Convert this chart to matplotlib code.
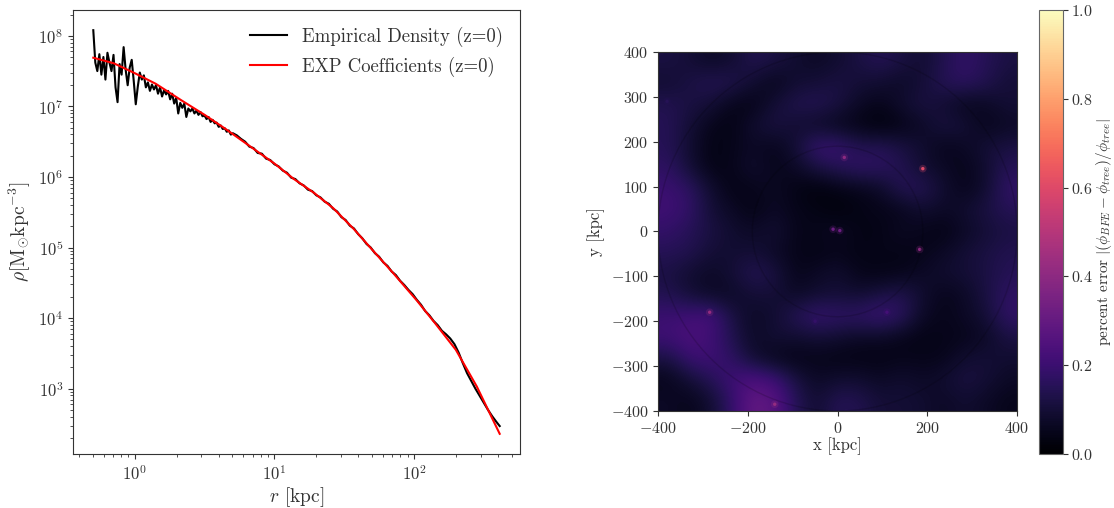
import numpy as np
import matplotlib
matplotlib.use('agg')
import matplotlib.pyplot as plt
from matplotlib.patches import Circle

plt.rcParams['font.family'] = 'serif'
plt.rcParams['font.serif'] = ['cmr10']
plt.rcParams['mathtext.fontset'] = 'cm'
plt.rcParams['axes.formatter.use_mathtext'] = True
plt.rcParams['axes.edgecolor'] = '0.2'
plt.rcParams['text.color'] = '0.2'
plt.rcParams['axes.labelcolor'] = '0.2'
plt.rcParams['xtick.color'] = '0.2'
plt.rcParams['ytick.color'] = '0.2'

# --- density profile (log10 r [kpc], log10 rho) ---
emp_logr_inner = np.linspace(-0.298, 0.702, 70)  # radial bins, inner noisy part
emp_logrho_inner = [
    8.08, 7.62, 7.50, 7.74, 7.45, 7.70, 7.38, 7.76, 7.62, 7.50,
    7.73, 7.27, 7.06, 7.60, 7.45, 7.84, 7.52, 7.30, 7.55, 7.66,
    7.36, 7.03, 7.28, 7.48, 7.38, 7.44, 7.27, 7.34, 7.22, 7.31,
    7.24, 7.30, 7.18, 7.27, 7.14, 7.23, 7.17, 7.22, 7.10, 7.18,
    7.04, 7.12, 6.90, 7.05, 6.98, 7.04, 6.85, 6.97, 6.93, 6.97,
    6.90, 6.94, 6.88, 6.92, 6.86, 6.87, 6.82, 6.85, 6.78, 6.81,
    6.76, 6.77, 6.71, 6.73, 6.68, 6.69, 6.64, 6.66, 6.60, 6.62,
]
emp_logr_outer = [
    0.73, 0.76, 0.79, 0.82, 0.85, 0.88, 0.91, 0.94, 0.97, 1.00,
    1.03, 1.06, 1.09, 1.12, 1.15, 1.18, 1.21, 1.24, 1.27, 1.30,
    1.33, 1.36, 1.39, 1.42, 1.45, 1.48, 1.51, 1.54, 1.57, 1.60,
    1.63, 1.66, 1.69, 1.72, 1.75, 1.78, 1.81, 1.84, 1.87, 1.90,
    1.93, 1.96, 1.99, 2.02, 2.05, 2.08, 2.11, 2.14, 2.17, 2.20,
    2.23, 2.26, 2.29, 2.32, 2.35, 2.38, 2.41, 2.44, 2.47, 2.50,
    2.53, 2.56, 2.59, 2.614,
]
emp_logrho_outer = [
    6.59, 6.54, 6.50, 6.43, 6.41, 6.34, 6.33, 6.26, 6.24, 6.18,
    6.15, 6.09, 6.06, 5.99, 5.97, 5.91, 5.88, 5.82, 5.80, 5.74,
    5.71, 5.65, 5.62, 5.55, 5.51, 5.43, 5.39, 5.31, 5.27, 5.19,
    5.13, 5.05, 5.00, 4.92, 4.87, 4.79, 4.74, 4.66, 4.61, 4.53,
    4.47, 4.40, 4.34, 4.26, 4.19, 4.10, 4.04, 3.96, 3.90, 3.82,
    3.77, 3.71, 3.63, 3.51, 3.36, 3.22, 3.11, 3.00, 2.90, 2.80,
    2.70, 2.61, 2.53, 2.47,
]
exp_logr = [-0.298, -0.15, 0.0, 0.15, 0.33, 0.50, 0.65, 0.85, 1.00, 1.14,
            1.28, 1.42, 1.57, 1.70, 1.85, 2.02, 2.15, 2.30, 2.45, 2.614]
exp_logrho = [7.69, 7.61, 7.47, 7.32, 7.09, 6.88, 6.68, 6.40, 6.19, 5.97,
              5.78, 5.56, 5.26, 4.97, 4.64, 4.25, 3.93, 3.55, 3.03, 2.36]

# --- percent error map, coarse grid (rows y=400 -> -400) ---
err_grid = np.array([
    [0.12, 0.10, 0.07, 0.09, 0.14, 0.12, 0.09, 0.07, 0.09, 0.12, 0.15, 0.12, 0.09, 0.14, 0.18, 0.15, 0.12],
    [0.09, 0.12, 0.15, 0.14, 0.09, 0.05, 0.09, 0.10, 0.12, 0.10, 0.09, 0.07, 0.10, 0.15, 0.17, 0.14, 0.10],
    [0.14, 0.12, 0.10, 0.05, 0.04, 0.10, 0.14, 0.15, 0.12, 0.07, 0.05, 0.09, 0.12, 0.09, 0.05, 0.07, 0.10],
    [0.15, 0.10, 0.05, 0.04, 0.09, 0.12, 0.09, 0.07, 0.05, 0.04, 0.02, 0.04, 0.07, 0.12, 0.10, 0.05, 0.07],
    [0.15, 0.09, 0.04, 0.05, 0.07, 0.05, 0.10, 0.20, 0.20, 0.14, 0.15, 0.12, 0.09, 0.05, 0.07, 0.10, 0.12],
    [0.17, 0.10, 0.04, 0.05, 0.09, 0.05, 0.07, 0.12, 0.15, 0.18, 0.17, 0.14, 0.09, 0.07, 0.05, 0.09, 0.15],
    [0.20, 0.17, 0.09, 0.04, 0.05, 0.07, 0.04, 0.02, 0.04, 0.05, 0.07, 0.15, 0.15, 0.09, 0.05, 0.09, 0.18],
    [0.21, 0.18, 0.10, 0.07, 0.04, 0.07, 0.05, 0.04, 0.02, 0.04, 0.05, 0.05, 0.09, 0.07, 0.09, 0.12, 0.15],
    [0.18, 0.15, 0.12, 0.09, 0.07, 0.10, 0.05, 0.05, 0.07, 0.04, 0.04, 0.07, 0.05, 0.04, 0.07, 0.10, 0.12],
    [0.15, 0.14, 0.10, 0.09, 0.10, 0.07, 0.05, 0.04, 0.05, 0.04, 0.05, 0.04, 0.05, 0.07, 0.10, 0.12, 0.14],
    [0.12, 0.09, 0.07, 0.10, 0.15, 0.12, 0.05, 0.07, 0.09, 0.05, 0.04, 0.05, 0.07, 0.09, 0.10, 0.12, 0.15],
    [0.14, 0.10, 0.07, 0.07, 0.10, 0.10, 0.07, 0.09, 0.10, 0.09, 0.12, 0.14, 0.09, 0.05, 0.07, 0.12, 0.17],
    [0.20, 0.21, 0.23, 0.12, 0.07, 0.09, 0.15, 0.20, 0.18, 0.18, 0.21, 0.17, 0.07, 0.05, 0.07, 0.10, 0.18],
    [0.21, 0.24, 0.21, 0.14, 0.07, 0.10, 0.09, 0.10, 0.09, 0.07, 0.07, 0.05, 0.04, 0.05, 0.05, 0.07, 0.12],
    [0.12, 0.20, 0.21, 0.17, 0.09, 0.05, 0.04, 0.05, 0.04, 0.04, 0.04, 0.05, 0.05, 0.05, 0.09, 0.10, 0.09],
    [0.05, 0.10, 0.15, 0.21, 0.24, 0.21, 0.12, 0.07, 0.09, 0.09, 0.07, 0.09, 0.07, 0.09, 0.12, 0.10, 0.07],
    [0.07, 0.05, 0.09, 0.18, 0.30, 0.27, 0.15, 0.09, 0.15, 0.14, 0.10, 0.10, 0.09, 0.07, 0.09, 0.07, 0.05],
])
spot_x = [190, 15, -285, 183, -140, -10, 5, 110, -50, -380]
spot_y = [140, 165, -180, -40, -385, 5, 2, -180, -200, 290]
spot_err = [0.60, 0.40, 0.42, 0.40, 0.42, 0.32, 0.32, 0.22, 0.18, 0.15]
ring_radii = [190, 400]


def get_plot():
    fig = plt.figure(figsize=(11.14, 5.08), dpi=100)

    ax1 = fig.add_axes([0.0655, 0.1063, 0.4013, 0.874])
    emp_r = 10 ** np.concatenate([emp_logr_inner, emp_logr_outer])
    emp_rho = 10 ** np.concatenate([emp_logrho_inner, emp_logrho_outer])
    ax1.plot(emp_r, emp_rho, color='black', lw=1.5, label='Empirical Density (z=0)')
    ax1.plot(10 ** np.array(exp_logr), 10 ** np.array(exp_logrho), color='red', lw=1.5,
             label='EXP Coefficients (z=0)')
    ax1.set_xscale('log')
    ax1.set_yscale('log')
    ax1.set_xlabel(r'$r$ [kpc]', fontsize=14, labelpad=2)
    ax1.set_ylabel(r'$\rho[\mathrm{M_{\odot}kpc^{-3}}]$', fontsize=14)
    ax1.tick_params(labelsize=12)
    ax1.legend(frameon=False, fontsize=13.5, loc='upper right')

    ax2 = fig.add_axes([0.5907, 0.191, 0.3223, 0.7067])
    im = ax2.imshow(err_grid, extent=[-400, 400, -400, 400], origin='upper',
                    cmap='magma', vmin=0, vmax=1, interpolation='bicubic')
    ax2.scatter(spot_x, spot_y, c=spot_err, cmap='magma', vmin=0, vmax=1,
                s=30, alpha=0.25, edgecolors='none')
    ax2.scatter(spot_x, spot_y, c=spot_err, cmap='magma', vmin=0, vmax=1,
                s=6, edgecolors='none')
    for rr in ring_radii:
        ax2.add_patch(Circle((0, 0), rr, fill=False, edgecolor='black', alpha=0.15, lw=1))
    ax2.set_xlim(-400, 400)
    ax2.set_ylim(-400, 400)
    ax2.set_xticks([-400, -200, 0, 200, 400])
    ax2.set_yticks([-400, -300, -200, -100, 0, 100, 200, 300, 400])
    ax2.set_xlabel('x [kpc]', fontsize=12, labelpad=1)
    ax2.set_ylabel('y [kpc]', fontsize=12)
    ax2.tick_params(labelsize=11.5)

    cax = fig.add_axes([0.9327, 0.1063, 0.0215, 0.874])
    cb = fig.colorbar(im, cax=cax)
    cb.set_ticks([0.0, 0.2, 0.4, 0.6, 0.8, 1.0])
    cb.ax.tick_params(labelsize=11.5, pad=2)
    cb.outline.set_edgecolor('0.4')
    cb.set_label(r'percent error $|(\phi_{BFE} - \phi_{tree})/\phi_{tree}|$', fontsize=11,
                 labelpad=1)

    fig.savefig('out.png', dpi=100)


get_plot()
